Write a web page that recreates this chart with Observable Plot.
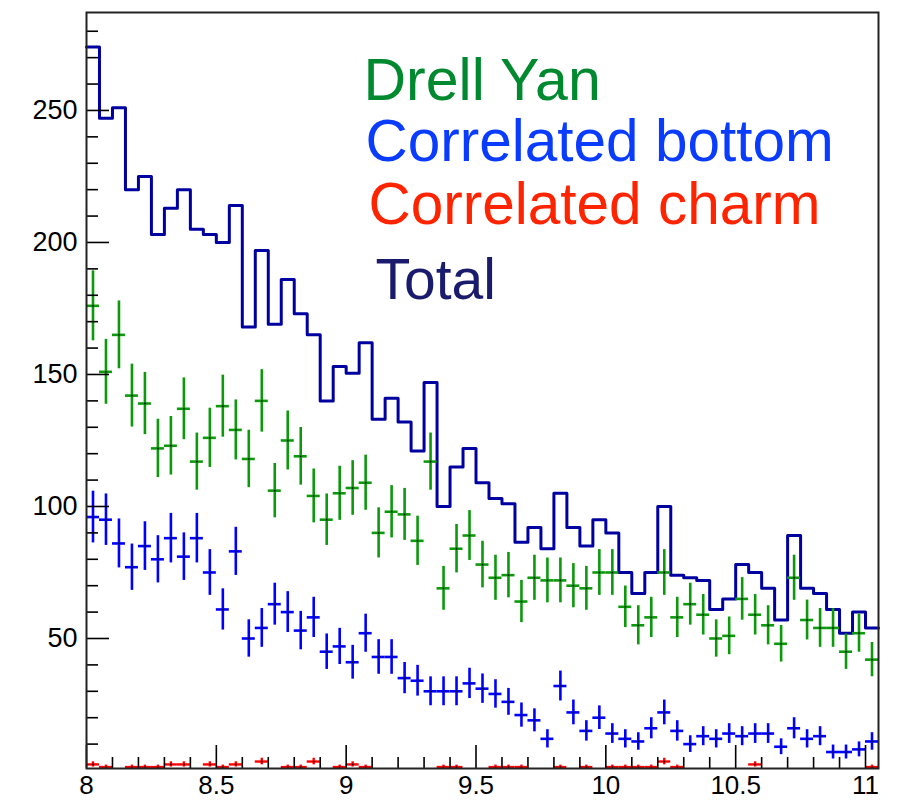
<!DOCTYPE html>
<html>
<head>
<meta charset="utf-8">
<script src="https://cdn.jsdelivr.net/npm/d3@7"></script>
<script src="https://cdn.jsdelivr.net/npm/@observablehq/plot@0.6"></script>
<style>
  html, body { margin: 0; padding: 0; background: #fff; }
  #chart { width: 903px; height: 801px; }
</style>
</head>
<body>
<div id="chart"></div>
<script>
// Dimuon invariant-mass histogram, 0.05 wide bins starting at 8
const binStart = 8;
const binWidth = 0.05;

// Drell Yan counts per bin
const drellYan = [
  176, 151, 165, 142, 139, 122, 123, 137, 117, 126,
  138, 129, 118, 140, 106, 125, 119, 104, 95, 105,
  107, 109, 90, 98, 97, 87, 117, 69, 84, 89,
  78, 73, 74, 64, 73, 72, 72, 70, 69, 75,
  75, 62, 55, 58, 75, 58, 63, 59, 50, 51,
  65, 59, 55, 48, 73, 57, 54, 54, 45, 52,
  42
];

// Correlated bottom counts per bin
const bottom = [
  96, 95, 86, 77, 85, 80, 88, 81, 88, 75,
  61, 83, 50, 54, 63, 60, 53, 58, 45, 47,
  41, 52, 43, 43, 35, 34, 30, 30, 30, 33,
  31, 29, 26, 21, 19, 12, 32, 22, 15, 20,
  14, 12, 11, 16, 22, 15, 10, 13, 12, 14,
  13, 14, 14, 9, 16, 12, 13, 7, 7, 8,
  11
];

// Correlated charm (weighted) per bin, 0 = empty bin
const charm = [
  2.3, 1.3, 0, 1.3, 1.3, 1.3, 2.3, 2.3, 0, 2.3,
  1.3, 2.3, 0, 3.4, 0, 1.3, 1.3, 3.4, 0, 1.3,
  2.3, 1.3, 0, 0, 0, 0, 0, 1.3, 1.3, 0,
  0, 1.3, 1.3, 1.3, 0, 0, 1.3, 0, 1.3, 0,
  1.3, 1.3, 1.3, 1.3, 3.4, 1.3, 0, 0, 0, 0,
  0, 2.3, 0, 0, 0, 0, 0, 0, 0, 0,
  1.3
];
const charmErr = [
  1.0, 0.75, 0, 0.75, 0.75, 0.75, 1.0, 1.0, 0, 1.0,
  0.75, 1.0, 0, 1.25, 0, 0.75, 0.75, 1.25, 0, 0.75,
  1.0, 0.75, 0, 0, 0, 0, 0, 0.75, 0.75, 0,
  0, 0.75, 0.75, 0.75, 0, 0, 0.75, 0, 0.75, 0,
  0.75, 0.75, 0.75, 0.75, 1.25, 0.75, 0, 0, 0, 0,
  0, 1.0, 0, 0, 0, 0, 0, 0, 0, 0,
  0.75
];

// Total of all contributions per bin
const total = [
  274, 247, 251, 220, 225, 203, 213, 220, 205, 203,
  200, 214, 168, 197, 169, 186, 173, 165, 140, 153,
  150.5, 162, 133, 141, 132, 121, 147, 100, 115, 122,
  109, 103, 101, 86.5, 92, 84, 105, 92, 85, 95,
  90, 75, 67, 75, 100, 74, 73, 72, 61, 65,
  78, 75, 69, 57, 89, 69, 67, 61, 52, 60,
  54
];

// Axis ticks
const xLabels = [8, 8.5, 9, 9.5, 10, 10.5, 11];
const xMinor = [8.1, 8.2, 8.3, 8.4, 8.6, 8.7, 8.8, 8.9, 9.1, 9.2, 9.3, 9.4,
  9.6, 9.7, 9.8, 9.9, 10.1, 10.2, 10.3, 10.4, 10.6, 10.7, 10.8, 10.9];
const yLabels = [50, 100, 150, 200, 250];
const yMinor = [10, 20, 30, 40, 60, 70, 80, 90, 110, 120, 130, 140, 160, 170, 180,
  190, 210, 220, 230, 240, 260, 270, 280];

// Legend entries
const legend = [
  {text: "Drell Yan", color: "#00892f", size: 59, dx: 277, dy: 87},
  {text: "Correlated bottom", color: "#0a3cff", size: 58.5, dx: 279, dy: 148},
  {text: "Correlated charm", color: "#ff2400", size: 58.5, dx: 282, dy: 211},
  {text: "Total", color: "#1b1b6e", size: 57, dx: 289, dy: 286}
];

const W = 903, H = 801;
const mL = 86, mR = 25, mT = 12, mB = 33;
const innerW = W - mL - mR, innerH = H - mT - mB;

function binned(values, errors) {
  return values.map((v, i) => ({
    lo: binStart + i * binWidth,
    hi: binStart + (i + 1) * binWidth,
    mid: binStart + (i + 0.5) * binWidth,
    v,
    e: errors ? errors[i] : Math.sqrt(v)
  })).filter(d => d.v > 0);
}

const dyPts = binned(drellYan);
const bPts = binned(bottom);
const cPts = binned(charm, charmErr);

const totalStep = total.map((v, i) => ({x: binStart + i * binWidth, v}));
totalStep.push({x: binStart + total.length * binWidth, v: total[total.length - 1]});

function errorMarks(pts, color, width) {
  return [
    Plot.ruleX(pts, {x: "mid", y1: d => d.v - d.e, y2: d => d.v + d.e, stroke: color, strokeWidth: width, clip: true}),
    Plot.ruleY(pts, {y: "v", x1: "lo", x2: "hi", stroke: color, strokeWidth: width, clip: true}),
    Plot.dot(pts, {x: "mid", y: "v", r: 0.9, fill: "#111", stroke: null, clip: true})
  ];
}

const chart = Plot.plot({
  width: W,
  height: H,
  marginLeft: mL,
  marginRight: mR,
  marginTop: mT,
  marginBottom: mB,
  style: {fontFamily: "'Liberation Sans', Helvetica, Arial, sans-serif", background: "#fff", color: "#000"},
  x: {domain: [binStart, binStart + total.length * binWidth]},
  y: {domain: [0.76, 287.1]},
  marks: [
    // total histogram outline
    Plot.line(totalStep, {x: "x", y: "v", curve: "step-after", stroke: "#0000a0", strokeWidth: 3}),
    ...errorMarks(dyPts, "#0c990c", 2.6),
    ...errorMarks(bPts, "#0000ff", 2.6),
    ...errorMarks(cPts, "#ff0000", 2.4),
    // inward tick marks
    Plot.tickX(xLabels, {x: d => d, insetTop: innerH - 23, stroke: "#000", strokeWidth: 1.6}),
    Plot.tickX(xMinor, {x: d => d, insetTop: innerH - 11, stroke: "#000", strokeWidth: 1.6}),
    Plot.tickY(yLabels, {y: d => d, insetRight: innerW - 23, stroke: "#000", strokeWidth: 1.6}),
    Plot.tickY(yMinor, {y: d => d, insetRight: innerW - 12, stroke: "#000", strokeWidth: 1.6}),
    Plot.axisX(xLabels, {tickSize: 0, tickPadding: 7, fontSize: 26, label: null, tickFormat: d => String(d)}),
    Plot.axisY(yLabels, {tickSize: 0, tickPadding: 9, fontSize: 27, label: null, tickFormat: d => String(d)}),
    Plot.frame({stroke: "#222", strokeWidth: 2}),
    // legend labels
    ...legend.map(l => Plot.text([l.text], {
      text: d => d,
      frameAnchor: "top-left",
      textAnchor: "start",
      lineAnchor: "bottom",
      dx: l.dx,
      dy: l.dy,
      fill: l.color,
      fontSize: l.size
    }))
  ]
});

document.getElementById("chart").appendChild(chart);
</script>
</body>
</html>
